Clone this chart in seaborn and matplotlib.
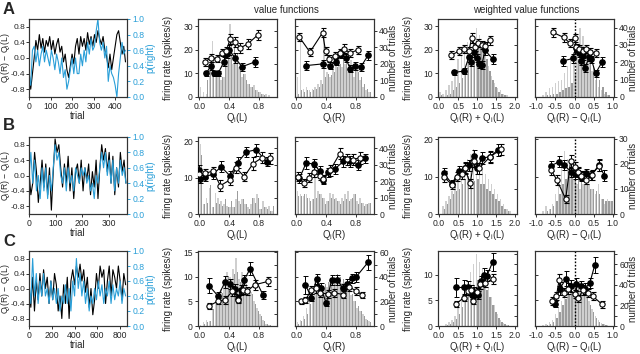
import numpy as np
import matplotlib
matplotlib.use("Agg")
import matplotlib.pyplot as plt
from matplotlib.ticker import FormatStrFormatter, MultipleLocator
import seaborn as sns

sns.set_style("ticks")
plt.rcParams['font.family'] = ['Liberation Sans', 'DejaVu Sans']
plt.rcParams['mathtext.fontset'] = 'custom'
plt.rcParams['mathtext.rm'] = 'Liberation Sans'
plt.rcParams['mathtext.it'] = 'Liberation Sans:italic'
plt.rcParams['axes.unicode_minus'] = False

BLUE = "#2a9fd8"
LIGHT = "#cfcfcf"
DARK = "#9c9c9c"
SPINE = "#333333"
TICK_FS = 6.2
LABEL_FS = 6.9

# ---------------- trace data (sampled every STEP trials) ----------------
A_STEP = 8
A_Q = [-0.3, -0.8, -0.4, 0.0, 0.45, 0.2, 0.6, 0.25, 0.5, 0.15, 0.45, 0.3, 0.55, 0.2, 0.45, 0.1,
       0.35, 0.5, 0.15, 0.3, -0.1, 0.1, -0.3, -0.5, -0.2, 0.1, -0.15, 0.3, 0.5, 0.1, 0.55, 0.3,
       0.5, 0.2, 0.65, 0.35, 0.55, 0.3, 0.6, 0.4, 0.7, 0.5, 0.35, 0.55, 0.2, 0.05, -0.25, 0.1,
       -0.3, 0.0, 0.3, 0.6, 0.7, 0.4, 0.1, 0.3, -0.1]
A_P = [0.3, 0.15, 0.6, 0.65, 0.45, 0.6, 0.4, 0.55, 0.65, 0.45, 0.6, 0.5, 0.4, 0.6, 0.5, 0.35,
       0.55, 0.45, 0.3, 0.5, 0.25, 0.35, 0.1, 0.2, 0.35, 0.5, 0.3, 0.5, 0.3, 0.3, 0.55, 0.4,
       0.6, 0.45, 0.7, 0.55, 0.75, 0.6, 0.65, 0.85, 1.0, 0.7, 0.6, 0.7, 0.5, 0.65, 0.2, 0.4,
       0.3, 0.25, 0.15, 0.0, 0.3, 0.5, 0.7, 0.55, 0.6]
B_STEP = 7
B_Q = [0.1, -0.5, -0.2, 0.6, 0.1, -0.7, -0.2, 0.4, -0.3, 0.3, -0.5, 0.2, -0.9, 0.1, 0.95, 0.6,
       0.8, 0.2, -0.3, 0.3, -0.2, 0.5, -0.4, 0.2, -0.6, 0.1, 0.3, -0.2, 0.4, -0.4, 0.2, -0.1,
       0.3, -0.5, 0.1, -0.3, 0.4, -0.6, 0.2, 0.8, 0.4, 0.7, 0.1, 0.6, -0.2, 0.5, -0.5, 0.2,
       -0.3, 0.6, 0.1, 0.4, -0.2]
B_P = [0.5, 0.8, 0.4, 0.7, 0.3, 0.5, 0.2, 0.6, 0.3, 0.6, 0.2, 0.5, 0.3, 0.6, 0.9, 0.7,
       0.8, 0.5, 0.4, 0.6, 0.3, 0.6, 0.4, 0.5, 0.3, 0.6, 0.5, 0.4, 0.6, 0.5, 0.6, 0.4,
       0.5, 0.3, 0.4, 0.2, 0.5, 0.4, 0.6, 0.8, 0.6, 0.8, 0.5, 0.7, 0.4, 0.7, 0.3, 0.6,
       0.4, 0.7, 0.5, 0.6, 0.4]
C_STEP = 16
C_Q = [0.0, -0.5, 0.3, -0.6, 0.2, -0.3, 0.4, -0.2, 0.5, 0.0, 0.3, -0.4, 0.2, -0.3, 0.4, 0.1,
       -0.6, -0.2, -0.8, 0.1, -0.4, 0.3, -0.8, 0.2, 0.5, 0.1, 0.6, 0.3, 0.65, 0.2, 0.5, -0.1,
       0.3, -0.5, 0.0, -0.7, -0.3, 0.4, 0.0, 0.6, 0.3, 0.5, -0.4, 0.2, 0.6, -0.2, 0.5, 0.3,
       0.0, 0.6, 0.2, -0.3, 0.4, 0.1]
C_P = [0.6, 0.3, 0.9, 0.4, 0.7, 0.3, 0.6, 0.4, 0.7, 0.4, 0.5, 0.3, 0.6, 0.35, 0.5, 0.3,
       0.5, 0.2, 0.4, 0.3, 0.55, 0.3, 0.5, 0.2, 0.6, 0.4, 0.9, 0.5, 0.7, 0.4, 0.6, 0.3,
       0.5, 0.2, 0.4, 0.3, 0.5, 0.35, 0.6, 0.4, 0.55, 0.3, 0.5, 0.4, 0.6, 0.3, 0.55, 0.35,
       0.5, 0.4, 0.6, 0.3, 0.5, 0.4]

# ---------------- histogram counts (25 bins per panel) ----------------
A1_LIGHT = [6, 3, 2, 12, 34, 16, 14, 10, 12, 22, 44, 20, 24, 18, 12, 14, 8, 6, 7, 4, 3, 2, 2, 1, 0]
A1_DARK = [0, 0, 10, 18, 22, 16, 14, 12, 20, 30, 36, 32, 26, 18, 14, 10, 8, 6, 4, 3, 2, 1, 0, 0, 0]
A2_LIGHT = [12, 33, 5, 6, 4, 5, 6, 8, 10, 40, 15, 12, 18, 22, 25, 18, 20, 15, 22, 12, 18, 10, 6, 4, 3]
A2_DARK = [2, 4, 3, 4, 3, 4, 5, 6, 8, 12, 14, 13, 15, 18, 20, 22, 24, 20, 18, 16, 15, 12, 8, 5, 3]
A3_LIGHT = [3, 2, 4, 7, 9, 15, 22, 24, 28, 32, 36, 34, 40, 36, 30, 24, 18, 12, 8, 5, 4, 2, 1, 0, 0]
A3_DARK = [1, 0, 1, 2, 4, 6, 8, 11, 15, 19, 24, 28, 30, 28, 27, 22, 15, 10, 6, 3, 2, 1, 0, 0, 0]
A4_LIGHT = [0, 0, 1, 3, 5, 6, 8, 9, 10, 14, 18, 22, 26, 30, 40, 35, 28, 20, 15, 10, 6, 4, 2, 1, 0]
A4_DARK = [0, 0, 0, 1, 1, 2, 2, 3, 4, 5, 6, 8, 14, 22, 30, 28, 26, 22, 18, 14, 10, 6, 3, 1, 0]
B1_LIGHT = [43, 6, 10, 16, 4, 13, 10, 8, 6, 5, 4, 4, 9, 8, 9, 6, 4, 6, 10, 12, 3, 8, 4, 5, 2]
B1_DARK = [36, 6, 7, 18, 4, 7, 6, 5, 9, 4, 8, 4, 14, 6, 9, 6, 3, 10, 7, 10, 3, 4, 3, 2, 5]
B2_LIGHT = [14, 12, 11, 12, 10, 9, 28, 14, 12, 10, 8, 13, 12, 10, 8, 10, 12, 14, 9, 12, 8, 10, 7, 6, 7]
B2_DARK = [11, 11, 12, 10, 8, 9, 10, 12, 10, 6, 8, 10, 9, 8, 6, 8, 9, 8, 10, 12, 6, 7, 5, 6, 7]
B3_LIGHT = [0, 3, 5, 7, 9, 12, 14, 16, 20, 22, 24, 26, 22, 20, 18, 16, 14, 12, 10, 8, 6, 4, 2, 1, 0]
B3_DARK = [0, 2, 4, 6, 8, 9, 10, 12, 14, 15, 14, 13, 14, 12, 12, 10, 9, 8, 6, 5, 3, 2, 1, 0, 0]
B4_LIGHT = [0, 0, 1, 3, 2, 4, 8, 14, 20, 25, 22, 18, 14, 12, 10, 12, 14, 12, 10, 8, 12, 6, 4, 6, 5]
B4_DARK = [0, 0, 0, 1, 2, 3, 5, 8, 12, 14, 16, 18, 19, 16, 14, 12, 12, 10, 10, 9, 8, 6, 5, 5, 5]
C1_LIGHT = [1, 3, 5, 4, 15, 20, 24, 30, 36, 44, 40, 46, 55, 38, 44, 38, 32, 28, 20, 15, 10, 5, 2, 1, 0]
C1_DARK = [0, 2, 3, 4, 14, 18, 22, 27, 32, 40, 38, 42, 44, 36, 40, 34, 30, 26, 18, 12, 8, 4, 2, 1, 0]
C2_LIGHT = [3, 5, 8, 15, 28, 32, 38, 40, 35, 30, 32, 35, 36, 38, 40, 35, 32, 30, 25, 20, 15, 12, 10, 6, 4]
C2_DARK = [2, 4, 6, 10, 18, 24, 28, 30, 32, 34, 36, 38, 40, 42, 40, 38, 34, 30, 26, 20, 16, 12, 8, 5, 3]
C3_LIGHT = [0, 0, 2, 4, 6, 10, 20, 28, 36, 45, 52, 60, 70, 62, 55, 48, 38, 28, 20, 12, 6, 3, 1, 0, 0]
C3_DARK = [0, 0, 1, 2, 4, 7, 12, 18, 24, 30, 35, 40, 45, 44, 40, 35, 28, 20, 14, 8, 4, 2, 1, 0, 0]
C4_LIGHT = [0, 0, 1, 2, 4, 6, 12, 18, 24, 35, 40, 44, 42, 45, 44, 38, 32, 24, 16, 10, 6, 3, 2, 1, 0]
C4_DARK = [0, 0, 0, 1, 2, 4, 8, 14, 20, 26, 30, 34, 36, 38, 38, 34, 28, 20, 14, 8, 4, 2, 1, 0, 0]

# ---------------- firing rate curves ----------------
A1_OPEN_X = [0.07, 0.15, 0.24, 0.30, 0.36, 0.41, 0.48, 0.55, 0.65, 0.78]
A1_OPEN_Y = [14.8, 16.5, 16.2, 18.8, 19.5, 24.5, 23.2, 20.8, 22.5, 26.2]
A1_OPEN_E = [1.8, 1.7, 1.6, 1.6, 1.8, 2.0, 2.0, 2.0, 2.0, 2.2]
A1_FILL_X = [0.09, 0.15, 0.19, 0.25, 0.33, 0.37, 0.40, 0.48, 0.57, 0.74]
A1_FILL_Y = [10.0, 13.0, 10.0, 10.0, 15.0, 18.2, 19.8, 16.5, 12.8, 14.8]
A1_FILL_E = [1.2, 1.6, 1.2, 1.2, 1.8, 1.8, 2.0, 2.0, 1.6, 2.0]

A2_OPEN_X = [0.04, 0.18, 0.35, 0.39, 0.44, 0.52, 0.58, 0.64, 0.72, 0.82]
A2_OPEN_Y = [25.3, 19.0, 27.2, 19.4, 16.2, 17.5, 18.5, 20.5, 18.5, 20.0]
A2_OPEN_E = [1.8, 1.8, 2.0, 1.8, 1.6, 1.6, 1.6, 1.8, 1.6, 1.6]
A2_FILL_X = [0.13, 0.35, 0.45, 0.53, 0.60, 0.66, 0.72, 0.78, 0.86, 0.96]
A2_FILL_Y = [13.3, 14.0, 13.3, 15.0, 18.2, 16.4, 12.0, 13.0, 12.6, 17.6]
A2_FILL_E = [1.8, 1.8, 1.6, 1.6, 1.6, 1.6, 1.4, 1.6, 1.6, 1.8]

A3_OPEN_X = [0.32, 0.53, 0.66, 0.78, 0.86, 0.94, 1.03, 1.12, 1.22, 1.33]
A3_OPEN_Y = [17.7, 19.5, 20.3, 19.5, 25.0, 21.2, 22.8, 22.0, 21.5, 24.0]
A3_OPEN_E = [1.6, 1.8, 1.8, 1.8, 2.0, 1.8, 1.8, 1.8, 1.8, 2.0]
A3_FILL_X = [0.40, 0.66, 0.78, 0.84, 0.92, 0.99, 1.05, 1.12, 1.21, 1.41]
A3_FILL_Y = [10.4, 11.0, 16.8, 15.0, 19.0, 16.6, 13.8, 13.5, 19.8, 16.0]
A3_FILL_E = [1.2, 1.4, 1.8, 1.8, 2.0, 1.8, 1.6, 1.6, 2.0, 2.0]

A4_OPEN_X = [-0.57, -0.28, -0.12, 0.01, 0.05, 0.12, 0.21, 0.30, 0.40, 0.57]
A4_OPEN_Y = [27.4, 25.2, 22.8, 24.9, 21.0, 20.5, 19.6, 20.2, 19.0, 18.6]
A4_OPEN_E = [2.0, 2.0, 1.8, 1.8, 1.6, 1.6, 1.6, 1.6, 1.6, 1.6]
A4_FILL_X = [-0.31, -0.05, 0.03, 0.12, 0.16, 0.22, 0.27, 0.38, 0.44, 0.55, 0.72]
A4_FILL_Y = [15.2, 16.3, 20.7, 18.7, 15.2, 17.3, 12.2, 16.8, 15.9, 10.0, 14.9]
A4_FILL_E = [2.0, 2.0, 1.8, 1.8, 1.6, 1.6, 1.6, 1.6, 1.6, 1.4, 2.0]

B1_OPEN_X = [0.0, 0.07, 0.18, 0.28, 0.41, 0.49, 0.60, 0.72, 0.84, 0.94]
B1_OPEN_Y = [10.9, 11.2, 11.8, 7.8, 9.4, 12.7, 10.3, 13.9, 15.5, 15.3]
B1_OPEN_E = [1.2, 1.2, 1.2, 1.5, 1.3, 1.5, 1.3, 1.7, 1.5, 1.4]
B1_FILL_X = [0.0, 0.01, 0.07, 0.18, 0.29, 0.41, 0.51, 0.63, 0.76, 0.90]
B1_FILL_Y = [12.1, 9.6, 10.3, 10.9, 13.0, 10.5, 14.1, 17.1, 17.7, 14.4]
B1_FILL_E = [1.3, 1.2, 1.2, 1.2, 1.5, 1.3, 1.5, 1.3, 1.6, 1.3]

B2_OPEN_X = [0.02, 0.10, 0.17, 0.24, 0.31, 0.36, 0.45, 0.58, 0.68, 0.76, 0.85]
B2_OPEN_Y = [10.3, 8.5, 10.0, 11.6, 10.5, 9.6, 12.0, 16.6, 15.1, 15.0, 15.5]
B2_OPEN_E = [1.3, 1.2, 1.2, 1.3, 1.2, 1.2, 1.4, 1.5, 1.5, 1.4, 1.6]
B2_FILL_X = [0.04, 0.13, 0.24, 0.31, 0.35, 0.42, 0.52, 0.63, 0.72, 0.82, 0.92]
B2_FILL_Y = [9.8, 14.1, 13.7, 11.8, 9.4, 11.5, 12.5, 14.5, 14.5, 13.5, 15.3]
B2_FILL_E = [1.2, 1.6, 1.5, 1.4, 1.2, 1.3, 1.4, 1.5, 1.5, 1.3, 1.2]

B3_OPEN_X = [0.12, 0.34, 0.47, 0.59, 0.67, 0.82, 0.91, 1.05, 1.34, 1.63]
B3_OPEN_Y = [10.0, 7.8, 10.0, 10.6, 12.2, 8.2, 14.2, 12.2, 15.3, 17.3]
B3_OPEN_E = [1.4, 1.0, 1.2, 1.2, 1.5, 1.2, 1.6, 1.4, 1.6, 1.5]
B3_FILL_X = [0.12, 0.34, 0.52, 0.67, 0.78, 0.91, 0.99, 1.14, 1.34, 1.54]
B3_FILL_Y = [10.9, 8.1, 11.5, 12.4, 13.0, 15.6, 12.2, 15.0, 15.3, 17.1]
B3_FILL_E = [1.5, 1.0, 1.3, 1.4, 1.4, 1.6, 1.4, 1.6, 1.4, 1.5]

B4_OPEN_X = [-0.61, -0.46, -0.23, -0.10, 0.02, 0.08, 0.18, 0.31, 0.45, 0.64]
B4_OPEN_Y = [11.8, 9.1, 4.0, 14.2, 12.5, 11.2, 10.3, 9.1, 10.5, 12.9]
B4_OPEN_E = [1.4, 1.3, 1.0, 1.6, 1.4, 1.3, 1.3, 1.2, 1.3, 1.5]
B4_FILL_X = [-0.61, -0.40, -0.27, -0.08, 0.02, 0.10, 0.18, 0.31, 0.44, 0.64, 0.78]
B4_FILL_Y = [12.9, 14.0, 13.1, 11.2, 10.6, 11.0, 10.0, 10.9, 10.4, 13.1, 10.3]
B4_FILL_E = [1.4, 1.4, 1.3, 1.2, 1.2, 1.2, 1.2, 1.2, 1.2, 1.5, 1.4]

C1_OPEN_X = [0.13, 0.25, 0.34, 0.44, 0.51, 0.59, 0.64, 0.74, 0.92]
C1_OPEN_Y = [4.1, 5.1, 5.3, 7.1, 5.4, 7.4, 7.1, 8.4, 9.1]
C1_OPEN_E = [0.6, 0.7, 0.8, 1.0, 0.7, 0.9, 0.8, 1.0, 0.9]
C1_FILL_X = [0.13, 0.25, 0.34, 0.41, 0.48, 0.51, 0.56, 0.60, 0.68, 0.85]
C1_FILL_Y = [8.2, 6.1, 8.9, 8.6, 7.5, 5.6, 7.3, 9.4, 11.7, 6.4]
C1_FILL_E = [1.5, 0.9, 1.2, 1.0, 1.0, 0.8, 1.0, 1.0, 1.3, 0.8]

C2_OPEN_X = [0.06, 0.12, 0.20, 0.26, 0.32, 0.42, 0.50, 0.63, 0.71, 0.80, 0.88]
C2_OPEN_Y = [5.0, 5.3, 7.4, 7.7, 6.8, 6.5, 6.8, 6.4, 8.0, 7.1, 6.4]
C2_OPEN_E = [0.6, 0.7, 0.8, 0.9, 0.8, 0.8, 0.8, 0.7, 0.9, 0.8, 0.6]
C2_FILL_X = [0.12, 0.20, 0.27, 0.33, 0.40, 0.47, 0.55, 0.62, 0.68, 0.75, 0.80, 0.96]
C2_FILL_Y = [8.4, 5.8, 9.5, 7.7, 4.6, 9.4, 9.4, 7.7, 8.6, 9.7, 10.0, 13.0]
C2_FILL_E = [1.8, 0.8, 1.2, 1.0, 0.6, 1.0, 1.0, 0.9, 1.0, 1.0, 1.0, 1.5]

C3_OPEN_X = [0.44, 0.65, 0.76, 0.85, 0.89, 1.00, 1.07, 1.22, 1.43]
C3_OPEN_Y = [4.3, 5.5, 6.8, 7.1, 4.9, 6.6, 8.1, 8.4, 9.2]
C3_OPEN_E = [0.6, 0.7, 0.8, 0.8, 0.6, 0.8, 0.9, 0.9, 1.0]
C3_FILL_X = [0.45, 0.65, 0.76, 0.87, 0.93, 1.02, 1.10, 1.17, 1.26, 1.41]
C3_FILL_Y = [7.5, 7.5, 7.6, 6.0, 6.6, 6.0, 8.7, 10.0, 9.8, 12.5]
C3_FILL_E = [1.8, 1.4, 1.2, 0.8, 0.9, 0.8, 1.0, 1.2, 1.1, 1.8]

C4_OPEN_X = [-0.59, -0.47, -0.40, -0.28, -0.16, 0.00, 0.10, 0.22, 0.35, 0.48, 0.72]
C4_OPEN_Y = [4.9, 5.9, 9.0, 6.5, 7.3, 6.2, 5.4, 7.0, 6.5, 5.8, 4.2]
C4_OPEN_E = [0.8, 0.8, 1.2, 0.9, 1.0, 0.8, 0.7, 0.9, 0.8, 0.8, 0.6]
C4_FILL_X = [-0.52, -0.38, -0.22, -0.10, 0.04, 0.16, 0.28, 0.40, 0.53]
C4_FILL_Y = [4.3, 7.3, 9.2, 7.8, 8.1, 7.8, 7.3, 8.4, 11.9]
C4_FILL_E = [0.6, 1.2, 1.5, 1.2, 1.2, 1.0, 1.0, 1.0, 1.6]

Q_L = "Q$_\\mathrm{i}$(L)"
Q_R = "Q$_\\mathrm{i}$(R)"
X_LABELS = [Q_L, Q_R, Q_R + " + " + Q_L, Q_R + " \u2212 " + Q_L]

W, H = 640.0, 354.0
fig = plt.figure(figsize=(6.4, 3.54), dpi=100)


def rect(x0, y0, x1, y1):
    return [x0 / W, 1 - y1 / H, (x1 - x0) / W, (y1 - y0) / H]


def style(ax):
    for s in ax.spines.values():
        s.set_color(SPINE)
        s.set_linewidth(0.8)
    ax.tick_params(length=2.5, width=0.7, labelsize=TICK_FS, pad=1.2, color=SPINE)


def trace_panel(box, q, p, step, xmax, xstep):
    ax = fig.add_axes(rect(*box))
    tw = ax.twinx()
    tr = np.arange(len(q)) * step
    sns.lineplot(x=tr, y=q, ax=ax, color='k', lw=0.8)
    sns.lineplot(x=tr, y=p, ax=tw, color=BLUE, lw=0.8)
    ax.set_xlim(0, xmax)
    ax.set_ylim(-1, 1)
    tw.set_ylim(0, 1)
    ax.xaxis.set_major_locator(MultipleLocator(xstep))
    ax.set_yticks([-0.8, -0.4, 0.0, 0.4, 0.8])
    ax.yaxis.set_major_formatter(FormatStrFormatter('%.1f'))
    tw.set_yticks([0.0, 0.2, 0.4, 0.6, 0.8, 1.0])
    tw.yaxis.set_major_formatter(FormatStrFormatter('%.1f'))
    style(ax)
    style(tw)
    ax.tick_params(axis='y', length=2, pad=0.8, labelsize=6.0)
    tw.tick_params(axis='y', colors=BLUE)
    ax.set_xlabel("trial", fontsize=LABEL_FS, labelpad=-0.3)
    ax.set_ylabel(Q_R + " \u2212 " + Q_L, fontsize=6.2)
    w = box[2] - box[0]
    ax.yaxis.set_label_coords((11.6 - box[0]) / w, 0.5)
    tw.set_ylabel("p(right)", fontsize=LABEL_FS, color=BLUE)
    tw.yaxis.set_label_coords((145.0 - box[0]) / w, 0.5)


def value_panel(box, kind, light, dark, ox, oy, oe, fx, fy, fe,
                fr_top, fr_ticks, tr_top, tr_major, tr_minor, side):
    ax = fig.add_axes(rect(*box))
    tw = ax.twinx()
    w = box[2] - box[0]
    if kind == 0 or kind == 1:
        lo, bw, xlim, xt = 0.0, 0.04, (-0.02, 1.04), [0.0, 0.4, 0.8]
    elif kind == 2:
        lo, bw, xlim, xt = 0.0, 0.08, (-0.03, 2.05), [0.0, 0.5, 1.0, 1.5, 2.0]
    else:
        lo, bw, xlim, xt = -1.0, 0.08, (-1.03, 1.03), [-1.0, -0.5, 0.0, 0.5, 1.0]
    centers = lo + bw * (np.arange(len(light)) + 0.5)
    tw.bar(centers - bw * 0.23, light, width=bw * 0.46, color=LIGHT, lw=0)
    tw.bar(centers + bw * 0.23, dark, width=bw * 0.46, color=DARK, lw=0)
    ax.set_zorder(tw.get_zorder() + 1)
    ax.patch.set_visible(False)
    if kind == 3:
        ax.axvline(0, color='k', ls=(0, (1.2, 1.2)), lw=1.0, zorder=1)
    ax.errorbar(fx, fy, yerr=fe, fmt='-o', color='k', mfc='k', mec='k', ms=3.8,
                lw=0.8, capsize=1.8, elinewidth=0.7, capthick=0.7, zorder=3)
    ax.errorbar(ox, oy, yerr=oe, fmt='-o', color='k', mfc='white', mec='k', ms=3.8,
                mew=0.8, lw=0.8, capsize=1.8, elinewidth=0.7, capthick=0.7, zorder=4)
    ax.set_xlim(*xlim)
    ax.set_xticks(xt)
    ax.xaxis.set_major_formatter(FormatStrFormatter('%.1f'))
    ax.set_ylim(0, fr_top)
    ax.set_yticks(fr_ticks)
    tw.set_ylim(0, tr_top)
    tw.set_yticks(tr_major)
    if tr_minor:
        tw.yaxis.set_minor_locator(MultipleLocator(tr_minor))
    style(ax)
    style(tw)
    tw.tick_params(axis='y', which='minor', length=2.5, width=0.7, color=SPINE)
    if side == 'left':
        tw.tick_params(axis='y', which='both', direction='in', labelright=False)
        ax.set_ylabel("firing rate (spikes/s)", fontsize=LABEL_FS)
        ax.yaxis.set_label_coords(-25.0 / w, 0.5)
    else:
        ax.tick_params(axis='y', direction='in', labelleft=False)
        tw.set_ylabel("number of trials", fontsize=LABEL_FS)
        tw.yaxis.set_label_coords(1 + 14.0 / w, 0.5)
    ax.set_xlabel(X_LABELS[kind], fontsize=LABEL_FS, labelpad=-0.3)


COLS = [(198, 277), (295, 374), (438, 517), (535, 614)]
ROWS = [(19, 97), (137, 214), (251, 326)]

# Row A
r = ROWS[0]
trace_panel((29, r[0], 127, r[1]), A_Q, A_P, A_STEP, 455, 100)
value_panel((COLS[0][0], r[0], COLS[0][1], r[1]), 0, A1_LIGHT, A1_DARK,
            A1_OPEN_X, A1_OPEN_Y, A1_OPEN_E, A1_FILL_X, A1_FILL_Y, A1_FILL_E,
            33, [0, 10, 20, 30], 47, [0, 10, 20, 30, 40], None, 'left')
value_panel((COLS[1][0], r[0], COLS[1][1], r[1]), 1, A2_LIGHT, A2_DARK,
            A2_OPEN_X, A2_OPEN_Y, A2_OPEN_E, A2_FILL_X, A2_FILL_Y, A2_FILL_E,
            33, [0, 10, 20, 30], 47, [0, 10, 20, 30, 40], None, 'right')
value_panel((COLS[2][0], r[0], COLS[2][1], r[1]), 2, A3_LIGHT, A3_DARK,
            A3_OPEN_X, A3_OPEN_Y, A3_OPEN_E, A3_FILL_X, A3_FILL_Y, A3_FILL_E,
            33, [0, 10, 20, 30], 45, [0, 10, 20, 30, 40], None, 'left')
value_panel((COLS[3][0], r[0], COLS[3][1], r[1]), 3, A4_LIGHT, A4_DARK,
            A4_OPEN_X, A4_OPEN_Y, A4_OPEN_E, A4_FILL_X, A4_FILL_Y, A4_FILL_E,
            33, [0, 10, 20, 30], 45, [0, 10, 20, 30, 40], None, 'right')

# Row B
r = ROWS[1]
trace_panel((29, r[0], 127, r[1]), B_Q, B_P, B_STEP, 368, 100)
value_panel((COLS[0][0], r[0], COLS[0][1], r[1]), 0, B1_LIGHT, B1_DARK,
            B1_OPEN_X, B1_OPEN_Y, B1_OPEN_E, B1_FILL_X, B1_FILL_Y, B1_FILL_E,
            21.2, [0, 10, 20], 47, [0, 10, 20, 30, 40], None, 'left')
value_panel((COLS[1][0], r[0], COLS[1][1], r[1]), 1, B2_LIGHT, B2_DARK,
            B2_OPEN_X, B2_OPEN_Y, B2_OPEN_E, B2_FILL_X, B2_FILL_Y, B2_FILL_E,
            21.2, [0, 10, 20], 47, [0, 10, 20, 30, 40], None, 'right')
value_panel((COLS[2][0], r[0], COLS[2][1], r[1]), 2, B3_LIGHT, B3_DARK,
            B3_OPEN_X, B3_OPEN_Y, B3_OPEN_E, B3_FILL_X, B3_FILL_Y, B3_FILL_E,
            20.6, [0, 10, 20], 30.7, [0, 10, 20, 30], None, 'left')
value_panel((COLS[3][0], r[0], COLS[3][1], r[1]), 3, B4_LIGHT, B4_DARK,
            B4_OPEN_X, B4_OPEN_Y, B4_OPEN_E, B4_FILL_X, B4_FILL_Y, B4_FILL_E,
            20.6, [0, 10, 20], 30.7, [0, 10, 20, 30], None, 'right')

# Row C
r = ROWS[2]
trace_panel((29, r[0], 127, r[1]), C_Q, C_P, C_STEP, 860, 200)
value_panel((COLS[0][0], r[0], COLS[0][1], r[1]), 0, C1_LIGHT, C1_DARK,
            C1_OPEN_X, C1_OPEN_Y, C1_OPEN_E, C1_FILL_X, C1_FILL_Y, C1_FILL_E,
            15.3, [0, 5, 10, 15], 61, [0, 20, 40, 60], 10, 'left')
value_panel((COLS[1][0], r[0], COLS[1][1], r[1]), 1, C2_LIGHT, C2_DARK,
            C2_OPEN_X, C2_OPEN_Y, C2_OPEN_E, C2_FILL_X, C2_FILL_Y, C2_FILL_E,
            15.3, [0, 5, 10, 15], 61, [0, 20, 40, 60], 10, 'right')
value_panel((COLS[2][0], r[0], COLS[2][1], r[1]), 2, C3_LIGHT, C3_DARK,
            C3_OPEN_X, C3_OPEN_Y, C3_OPEN_E, C3_FILL_X, C3_FILL_Y, C3_FILL_E,
            14.6, [0, 5, 10], 72.6, [0, 20, 40, 60], 10, 'left')
value_panel((COLS[3][0], r[0], COLS[3][1], r[1]), 3, C4_LIGHT, C4_DARK,
            C4_OPEN_X, C4_OPEN_Y, C4_OPEN_E, C4_FILL_X, C4_FILL_Y, C4_FILL_E,
            14.6, [0, 5, 10], 72.6, [0, 20, 40, 60], 10, 'right')

for letter, y in (("A", 9), ("B", 126), ("C", 241)):
    fig.text(3 / W, 1 - y / H, letter, fontsize=12, fontweight='bold', va='center', ha='left')
fig.text(286 / W, 1 - 10 / H, "value functions", fontsize=7, ha='center', va='center')
fig.text(526 / W, 1 - 10 / H, "weighted value functions", fontsize=7, ha='center', va='center')

fig.savefig("out.png", dpi=100)
